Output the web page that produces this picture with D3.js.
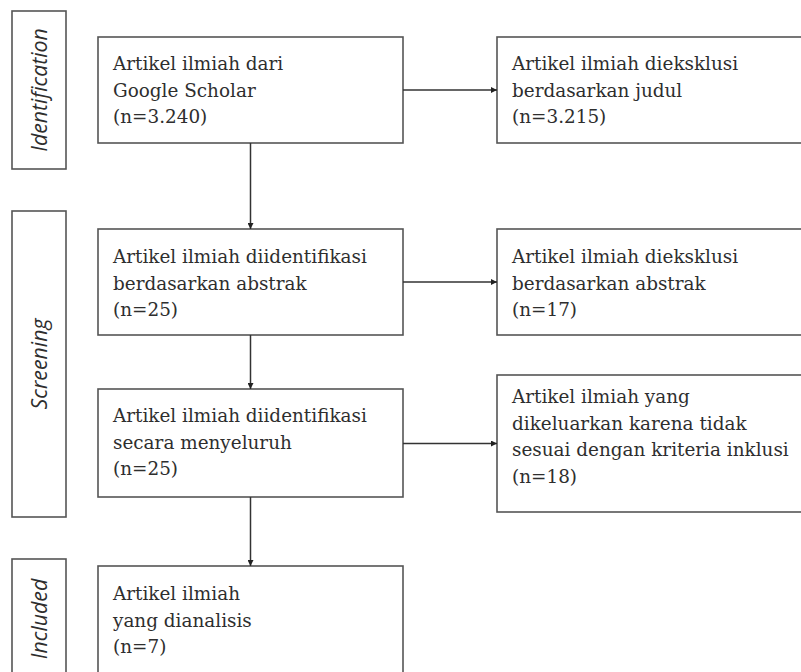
<!DOCTYPE html>
<html>
<head>
<meta charset="utf-8">
<script src="https://cdn.jsdelivr.net/npm/d3@7"></script>
<style>
  body { margin: 0; background: #fff; }
  svg { display: block; }
</style>
</head>
<body>
<div id="chart"></div>
<script>
// PRISMA flow data
const stageLabels = ["Identification", "Screening", "Included"];
const mainLabels = [
  ["Artikel ilmiah dari", "Google Scholar"],
  ["Artikel ilmiah diidentifikasi", "berdasarkan abstrak"],
  ["Artikel ilmiah diidentifikasi", "secara menyeluruh"],
  ["Artikel ilmiah", "yang dianalisis"]
];
const mainCounts = ["3.240", "25", "25", "7"];
const excludedLabels = [
  ["Artikel ilmiah dieksklusi", "berdasarkan judul"],
  ["Artikel ilmiah dieksklusi", "berdasarkan abstrak"],
  ["Artikel ilmiah yang", "dikeluarkan karena tidak", "sesuai dengan kriteria inklusi"]
];
const excludedCounts = ["3.215", "17", "18"];

const width = 801, height = 672;
const lineH = 26.6;
const stroke = "#555";
const ink = "#2e2e2e";

// layout (pixels)
const stageBoxes = [[11, 169], [211, 517], [559, 700]];
const mainBoxes = [[37, 143, 33], [229, 335, 34], [389, 497, 33], [566, 700, 34]];
const exclBoxes = [[37, 143, 33], [229, 335, 34], [375, 512, 28]];

const col = d3.scaleOrdinal().domain(["stage", "main", "excl"]).range([12, 98, 497]);
const colW = d3.scaleOrdinal().domain(["stage", "main", "excl"]).range([54, 305, 320]);

const svg = d3.select("#chart").append("svg")
  .attr("width", width)
  .attr("height", height)
  .style("background", "#fff");

svg.append("defs").append("marker")
  .attr("id", "arrow")
  .attr("viewBox", "0 0 10 10")
  .attr("refX", 10).attr("refY", 5)
  .attr("markerWidth", 7).attr("markerHeight", 6)
  .attr("markerUnits", "userSpaceOnUse")
  .attr("orient", "auto")
  .append("path")
  .attr("d", "M0,0L10,5L0,10Z")
  .attr("fill", "#222");

// stage boxes with rotated italic labels
const stages = svg.selectAll("g.stage")
  .data(stageLabels)
  .enter().append("g")
  .attr("class", "stage");

stages.append("rect")
  .attr("x", col("stage"))
  .attr("y", (d, i) => stageBoxes[i][0])
  .attr("width", colW("stage"))
  .attr("height", (d, i) => stageBoxes[i][1] - stageBoxes[i][0])
  .attr("fill", "none")
  .attr("stroke", stroke)
  .attr("stroke-width", 1.6);

const stageTextY = [90, 364, 619];
stages.append("text")
  .attr("transform", (d, i) => `translate(${col("stage") + 35},${stageTextY[i]}) rotate(-90)`)
  .attr("text-anchor", "middle")
  .attr("font-family", "'Open Sans', sans-serif")
  .attr("font-style", "italic")
  .attr("font-size", 21.3)
  .attr("fill", ink)
  .text(d => d);

function drawBoxes(cls, labels, counts, boxes) {
  const g = svg.selectAll("g." + cls)
    .data(labels)
    .enter().append("g")
    .attr("class", cls);

  g.append("rect")
    .attr("x", col(cls))
    .attr("y", (d, i) => boxes[i][0])
    .attr("width", colW(cls))
    .attr("height", (d, i) => boxes[i][1] - boxes[i][0])
    .attr("fill", "#fff")
    .attr("stroke", stroke)
    .attr("stroke-width", 1.6);

  const t = g.append("text")
    .attr("font-family", "'DejaVu Serif', serif")
    .attr("font-size", 18.4)
    .attr("fill", ink);

  t.selectAll("tspan")
    .data((d, i) => d.concat(["(n=" + counts[i] + ")"]).map(s => ({ s, i })))
    .enter().append("tspan")
    .attr("x", col(cls) + 15)
    .attr("y", (d, j) => boxes[d.i][0] + boxes[d.i][2] + j * lineH)
    .text(d => d.s);
}

// connectors
const cx = col("main") + colW("main") / 2;
for (let i = 0; i < mainBoxes.length - 1; i++) {
  svg.append("line")
    .attr("x1", cx).attr("x2", cx)
    .attr("y1", mainBoxes[i][1]).attr("y2", mainBoxes[i + 1][0])
    .attr("stroke", "#333").attr("stroke-width", 1.5)
    .attr("marker-end", "url(#arrow)");
}
exclBoxes.forEach((b, i) => {
  const y = (b[0] + b[1]) / 2;
  svg.append("line")
    .attr("x1", col("main") + colW("main")).attr("x2", col("excl"))
    .attr("y1", y).attr("y2", y)
    .attr("stroke", "#333").attr("stroke-width", 1.5)
    .attr("marker-end", "url(#arrow)");
});

drawBoxes("main", mainLabels, mainCounts, mainBoxes);
drawBoxes("excl", excludedLabels, excludedCounts, exclBoxes);

// keep arrowheads visible above box fills
svg.selectAll("line").raise();
</script>
</body>
</html>
